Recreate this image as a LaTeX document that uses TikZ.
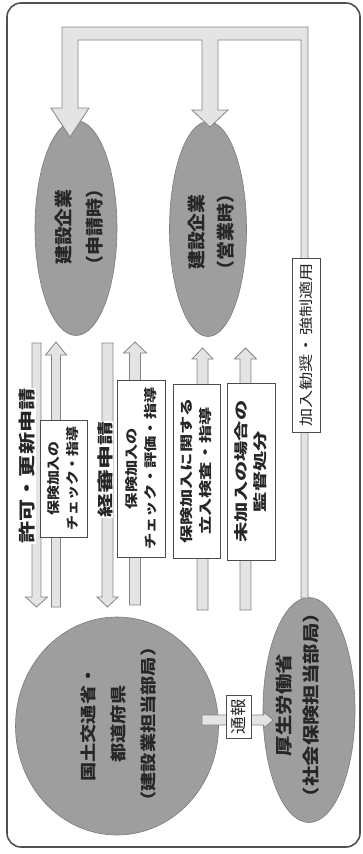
\documentclass[tikz,border=0pt]{standalone}
\usepackage{fontspec}
\usetikzlibrary{shapes.geometric}
\newfontfamily\jp{Noto Sans CJK JP}
% size, stretch, baselineskip
\newcommand\jt[3]{\jp\fontsize{#1pt}{#3pt}\selectfont\addfontfeatures{FakeStretch=#2}}
\newcommand\jtb[3]{\jp\bfseries\fontsize{#1pt}{#3pt}\selectfont\addfontfeatures{FakeStretch=#2}}
\definecolor{blobgray}{HTML}{9E9E9E}
\definecolor{blobline}{HTML}{7A7A7A}
\definecolor{arrowfill}{HTML}{E4E4E4}
\definecolor{arrowline}{HTML}{858585}
\definecolor{frameline}{HTML}{505050}
\definecolor{txt}{HTML}{262626}
% x centre, tail y, head base y, tip y, half shaft, half head
\newcommand\varr[6]{\draw[blockarrow] ({#1-#5},#2) -- ({#1-#5},#3) -- ({#1-#6},#3) -- (#1,#4) -- ({#1+#6},#3) -- ({#1+#5},#3) -- ({#1+#5},#2) -- cycle;}
\tikzset{
  blob/.style={ellipse, fill=blobgray, draw=blobline, line width=0.6pt, inner sep=0pt},
  btext/.style={rotate=90, align=center, text=txt, inner sep=0pt},
  lbox/.style={rotate=90, draw=black!70, fill=white, line width=0.8pt, align=center, inner sep=0pt, text=txt},
  blabel/.style={rotate=90, fill=white, inner sep=0.5pt, text=txt},
  blockarrow/.style={fill=arrowfill, draw=arrowline, line width=0.8pt, line join=miter},
  frame/.style={draw=frameline, line width=1.6pt, rounded corners=14pt}
}
\begin{document}
\begin{tikzpicture}[x=1pt,y=-1pt]
\useasboundingbox (0,0) rectangle (363,854);
\draw[frame] (7,3) rectangle (360,847);

% ellipses
\node[blob, minimum width=82pt, minimum height=215pt] (e1) at (76,228) {};
\node[blob, minimum width=77pt, minimum height=215pt] (e2) at (208,229) {};
\node[blob, minimum width=203pt, minimum height=218pt] (k) at (117,726) {};
\node[blob, minimum width=92pt, minimum height=225pt] (m) at (309,710) {};

\node[btext, font=\jtb{18}{1.05}{31}] (e1t) at (79,227) {建設企業\\（申請時）};
\node[btext, font=\jtb{18}{1.05}{29}] (e2t) at (211,232) {建設企業\\（営業時）};
\node[btext, font=\jtb{16}{1.2}{30}] (kt) at (118,724) {国土交通省・\\都道府県\\（建設業担当部局）};
\node[btext, font=\jtb{17}{1.2}{27}] (mt) at (298,705) {厚生労働省\\（社会保険担当部局）};

% top distribution arrow
\draw[blockarrow] (308,27) -- (62,27) -- (62,108) -- (51,108) -- (70,137) -- (89,108) -- (78,108) -- (78,40)
  -- (202,40) -- (202,110) -- (192,110) -- (210,127) -- (228,110) -- (218,110) -- (218,40)
  -- (301,40) -- (301,598) -- (308,598) -- cycle;

% vertical arrows
\varr{36.5}{343}{597}{607}{4.5}{11}
\varr{56}{607}{355}{342}{4.5}{10.5}
\varr{107.5}{343}{597}{607}{5.5}{10.5}
\varr{135}{605}{353}{342}{5.5}{11.5}
\varr{202.5}{610}{359}{348}{5.5}{10.5}
\varr{245.5}{610}{359}{348}{5.5}{11}

% report arrow
\draw[blockarrow] (202,715) -- (264,715) -- (264,712) -- (273,720) -- (264,728) -- (264,725) -- (202,725) -- cycle;

% labels
\node[blabel, font=\jtb{17}{1.3}{20}] (l1) at (27,466) {許可・更新申請};
\node[blabel, font=\jtb{16}{1.5}{20}] (l2) at (105,469) {経審申請};

\node[lbox, minimum width=117pt, minimum height=47pt, font=\jtb{13}{1.15}{19}] (b1) at (63.5,478.5) {保険加入の\\チェック・指導};
\node[lbox, minimum width=177pt, minimum height=48pt, font=\jtb{13}{1.25}{19}] (b2) at (141,468.5) {保険加入の\\チェック・評価・指導};
\node[lbox, minimum width=174pt, minimum height=47pt, font=\jtb{13}{1.4}{19}] (b3) at (196.5,471) {保険加入に関する\\立入検査・指導};
\node[lbox, minimum width=177pt, minimum height=48pt, font=\jtb{14}{1.45}{19}] (b4) at (251,471.5) {未加入の場合の\\監督処分};
\node[lbox, minimum width=174pt, minimum height=28pt, font=\jt{14}{1.3}{18}] (b5) at (306,345) {加入勧奨・強制適用};
\node[lbox, minimum width=43pt, minimum height=25pt, font=\jt{16}{1.1}{18}] (b6) at (238.5,716.5) {通報};
\end{tikzpicture}
\end{document}
